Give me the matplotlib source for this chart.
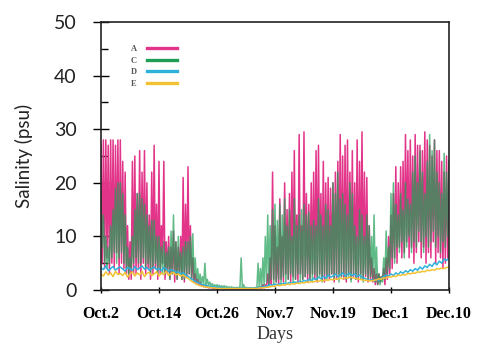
import numpy as np
import matplotlib
matplotlib.use("Agg")
from matplotlib import pyplot as plt

# Salinity readings every half day (highs) with the following low between them
a_high = [27, 28, 28, 27, 28, 28, 27, 28,
          28, 24, 22, 12, 9, 24, 25, 18,
          26, 22, 26, 20, 14, 22, 27, 16,
          24, 12, 24, 9, 10, 8, 11, 9,
          8, 10, 21, 16, 23, 12, 6, 3,
          2, 1.5, 1, 0.8, 0.6, 0.5, 0.5, 0.4,
          0.4, 0.4, 0.3, 0.3, 0.3, 0.3, 0.3, 0.3,
          0.3, 0.3, 0.3, 0.3, 0.3, 0.3, 0.3, 0.3,
          0.4, 0.5, 0.6, 1, 1, 3, 6, 22,
          12, 8, 17, 10, 20, 15, 18, 22,
          26, 14, 29, 12, 29.5, 18, 16, 20,
          22, 26, 27, 18, 24, 20, 21, 19,
          20, 22, 24, 29, 25, 27, 28, 22,
          26, 20, 28, 24, 29.5, 22, 21, 12,
          6, 4, 3, 3, 2.5, 4, 6, 10,
          14, 18, 23, 20, 23, 24, 29, 26,
          28, 25, 29, 27, 27, 26, 29.5, 28,
          27, 25, 28, 26, 26, 24, 22, 25,
          24]
a_low = [5, 4, 6, 3, 5, 4, 7, 3,
         5, 4, 3, 2, 2, 3, 3, 4,
         2, 5, 3, 4, 2, 3, 4, 2,
         3, 5, 2, 3, 2, 3, 1.5, 2,
         3, 2, 1.5, 2.5, 3, 2, 1.5, 1.2,
         1, 0.8, 0.6, 0.5, 0.4, 0.4, 0.3, 0.3,
         0.3, 0.3, 0.2, 0.2, 0.2, 0.2, 0.2, 0.2,
         0.2, 0.2, 0.2, 0.2, 0.2, 0.2, 0.2, 0.2,
         0.2, 0.3, 0.3, 0.4, 0.5, 0.8, 1, 2,
         1.5, 1, 2, 1.5, 3, 2, 1.5, 2.5,
         2, 1.5, 3, 2, 2.5, 1.5, 2, 3,
         2, 1.5, 3, 2, 1.5, 2.5, 2, 3,
         1.5, 2, 3, 2.5, 2, 1.5, 3, 2,
         2.5, 2, 1.5, 3, 2, 2.5, 1.5, 2,
         1.5, 1, 1, 1.5, 2, 1, 2, 3,
         4, 6, 5, 8, 6, 7, 9, 6,
         8, 5, 7, 9, 6, 8, 5, 7,
         6, 9, 5, 7, 6, 4, 5, 6]

c_high = [17, 14, 10, 8, 12, 15, 19, 20,
          20, 18, 14, 8, 6, 10, 15, 18,
          18, 17, 16, 14, 12, 13, 13, 10,
          10, 8, 9, 7, 8, 11, 14, 9,
          10, 7, 8, 9, 9, 10, 10.5, 6,
          4, 3, 2.5, 5, 2, 1.5, 1.2, 1,
          1, 0.9, 0.8, 0.8, 0.7, 0.6, 0.6, 0.5,
          0.5, 0.5, 6, 1, 0.5, 0.4, 0.4, 0.4,
          0.5, 5, 4, 6, 10, 14, 12, 15,
          16, 13, 16, 14, 17, 12, 15, 10,
          17, 12, 14, 15, 16, 14, 14.5, 12,
          13, 12, 17, 14, 12, 16, 15, 12,
          20, 18, 22, 17, 18, 16, 14, 20,
          18, 12, 10, 15, 14, 10, 14, 12,
          10, 14, 8, 3, 2.5, 6, 11, 8,
          18, 20, 16, 14, 18, 15, 20, 17,
          16, 22, 25, 20, 26, 22, 18, 24,
          29, 26, 28, 22, 20, 18, 25.5, 22,
          24]
c_low = [8, 5, 4, 5, 6, 7, 5, 6,
         7, 5, 4, 3, 4, 5, 6, 5,
         5, 6, 4, 5, 3, 4, 5, 3,
         4, 3, 3, 4, 2, 3, 3, 2,
         3, 2, 2, 3, 3, 2, 2, 1.5,
         1.5, 1.2, 1, 1, 0.9, 0.8, 0.7, 0.6,
         0.6, 0.5, 0.5, 0.5, 0.4, 0.4, 0.4, 0.4,
         0.4, 0.4, 0.5, 0.4, 0.3, 0.3, 0.3, 0.3,
         0.3, 0.4, 0.5, 1, 1.5, 1, 2, 1,
         1.5, 2, 1, 2.5, 1.5, 2, 3, 1.5,
         2, 3, 1.5, 2, 2.5, 3, 2, 1.5,
         3, 2, 2.5, 1.5, 3, 2, 2.5, 3,
         2, 3, 1.5, 2.5, 3, 2, 2.5, 1.5,
         3, 2, 2.5, 2, 1.5, 3, 2, 2.5,
         2, 1.5, 1, 1, 1.5, 2, 3, 4,
         6, 5, 8, 7, 9, 6, 8, 10,
         7, 9, 8, 11, 9, 7, 10, 8,
         9, 11, 8, 10, 7, 9, 8, 10]

d_vals = [4.2, 3.8, 4.5, 3.6, 4.0, 4.4, 3.7, 4.1,
          4.3, 3.9, 3.5, 4.2, 4.0, 3.6, 4.4, 3.8,
          4.1, 4.5, 3.9, 4.2, 3.7, 4.0, 4.3, 3.8,
          4.0, 3.6, 4.2, 3.9, 3.5, 3.8, 3.6, 3.3,
          3.4, 3.0, 3.2, 2.8, 2.6, 2.2, 1.9, 1.6,
          1.4, 1.2, 1.0, 0.9, 0.8, 0.7, 0.6, 0.6,
          0.5, 0.5, 0.5, 0.4, 0.4, 0.4, 0.4, 0.4,
          0.4, 0.4, 0.4, 0.4, 0.4, 0.4, 0.4, 0.4,
          0.4, 0.5, 0.5, 0.6, 0.7, 0.8, 1.0, 0.9,
          1.1, 1.0, 1.2, 1.1, 1.3, 1.2, 1.4, 1.3,
          1.5, 1.4, 1.6, 1.5, 1.8, 1.6, 2.0, 1.7,
          2.2, 1.9, 2.4, 2.1, 2.6, 2.2, 2.8, 2.4,
          2.6, 3.0, 2.5, 2.8, 3.2, 2.6, 2.9, 3.1,
          2.7, 3.0, 2.5, 2.8, 2.4, 2.2, 2.0, 1.8,
          1.9, 1.7, 2.0, 1.8, 2.2, 2.5, 2.8, 2.6,
          3.0, 2.7, 3.2, 2.9, 3.4, 3.1, 3.6, 3.3,
          3.8, 3.5, 4.0, 3.7, 4.3, 3.9, 4.5, 4.2,
          4.8, 4.4, 5.1, 4.7, 5.4, 5.0, 5.8, 5.5,
          6.0]
e_vals = [3.0, 2.6, 3.4, 2.8, 3.2, 2.5, 3.5, 2.9,
          3.1, 2.7, 3.3, 2.4, 3.0, 3.4, 2.6, 3.2,
          2.8, 3.5, 2.5, 3.1, 3.3, 2.7, 3.0, 3.4,
          2.6, 3.2, 2.9, 3.5, 2.7, 3.1, 3.3, 2.8,
          3.0, 2.6, 2.8, 2.4, 2.2, 1.8, 1.5, 1.2,
          1.0, 0.8, 0.7, 0.6, 0.5, 0.5, 0.4, 0.4,
          0.3, 0.3, 0.3, 0.3, 0.3, 0.3, 0.3, 0.3,
          0.3, 0.3, 0.3, 0.3, 0.3, 0.3, 0.3, 0.3,
          0.3, 0.3, 0.4, 0.4, 0.5, 0.5, 0.6, 0.7,
          0.7, 0.9, 0.8, 1.0, 0.9, 1.1, 1.0, 1.2,
          1.1, 1.3, 1.2, 1.4, 1.3, 1.5, 1.4, 1.6,
          1.5, 1.7, 1.6, 1.8, 1.7, 1.9, 1.8, 2.0,
          1.9, 2.1, 2.0, 2.2, 2.1, 2.3, 2.2, 2.4,
          2.3, 2.2, 2.1, 2.0, 1.9, 1.8, 1.8, 1.7,
          1.7, 1.8, 1.9, 2.1, 2.0, 2.3, 2.2, 2.5,
          2.4, 2.6, 2.5, 2.8, 2.7, 2.9, 2.8, 3.1,
          3.0, 3.2, 3.1, 3.4, 3.3, 3.5, 3.4, 3.7,
          3.6, 3.8, 3.7, 4.0, 3.9, 4.1, 4.0, 4.2,
          4.3]

tick_days = [0, 12, 24, 36, 48, 60, 72]
tick_labels = ['Oct.2', 'Oct.14', 'Oct.26', 'Nov.7', 'Nov.19', 'Dec.1', 'Dec.10']

t_half = np.arange(len(a_high)) * 0.5


def tidal_trace(high, low):
    # high values at each half day, low value a quarter day later
    high = np.asarray(high, float)
    low = np.asarray(low, float)
    x = np.column_stack([t_half[:-1], t_half[:-1] + 0.25]).ravel()
    y = np.column_stack([high[:-1], low]).ravel()
    return np.append(x, t_half[-1]), np.append(y, high[-1])


fig = plt.figure(figsize=(4.82, 3.49), dpi=100)
ax = fig.add_axes([0.2095, 0.169, 0.722, 0.768])

xa, ya = tidal_trace(a_high, a_low)
xc, yc = tidal_trace(c_high, c_low)
ax.plot(xa, ya, color='#e2358a', lw=1.1, label='A')
ax.plot(xc, yc, color='#1e9e55', lw=1.1, alpha=0.7, label='C')
ax.plot(t_half, d_vals, color='#2eb2dc', lw=1.1, label='D')
ax.plot(t_half, e_vals, color='#f2c233', lw=1.1, label='E')

ax.set_xlim(0, 72)
ax.set_ylim(0, 50)
ax.set_yticks(range(0, 51, 10))
ax.set_yticks(range(5, 50, 10), minor=True)
ax.set_xticks(tick_days)
ax.set_xticklabels(tick_labels, family='Liberation Serif', fontweight='bold', fontsize=11.5)
ax.tick_params(axis='y', which='major', direction='inout', length=11, width=1, labelsize=14, pad=12)
ax.tick_params(axis='y', which='minor', direction='in', length=5, width=1)
ax.tick_params(axis='x', which='major', direction='inout', length=5, width=1, pad=9)
for lbl in ax.get_yticklabels():
    lbl.set_family('Lato')
    lbl.set_color('#222222')
for sp in ax.spines.values():
    sp.set_linewidth(1.2)
    sp.set_color('#222222')

ax.set_ylabel('Salinity (psu)', family='Lato', fontsize=13.5, labelpad=15, color='#222222')
ax.set_xlabel('Days', family='Liberation Serif', fontsize=13, labelpad=3, color='#333333')

leg = ax.legend(loc='upper left', bbox_to_anchor=(0.085, 0.915), frameon=False,
                borderpad=0, borderaxespad=0,
                markerfirst=False, handlelength=3.6, handletextpad=1.2,
                labelspacing=0.45, prop={'family': 'Liberation Serif', 'size': 6, 'weight': 'bold'})
for line in leg.get_lines():
    line.set_linewidth(2.4)
    line.set_alpha(1)
for txt in leg.get_texts():
    txt.set_color('#555555')

fig.savefig('out.png', dpi=100)
